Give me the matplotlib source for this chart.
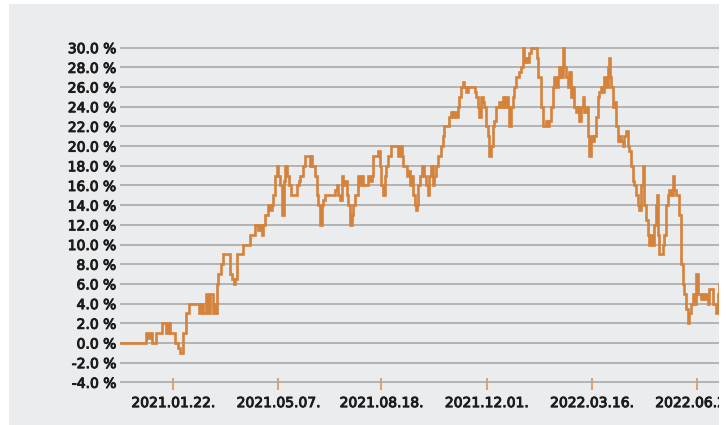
import pandas as pd
import matplotlib
matplotlib.use("Agg")
import matplotlib.pyplot as plt
import matplotlib.dates as mdates
import matplotlib.patheffects as pe
from matplotlib.patches import Rectangle

# DATA (days since start, cumulative return in %)
start_date = pd.Timestamp("2020-11-30")

day_offsets = [
    0, 25, 26, 28, 30, 32, 35, 36, 40, 42, 45, 46, 48, 50, 53, 55, 58, 60, 63, 66,
    69, 77, 79, 81, 83, 86, 88, 90, 93, 95, 96, 97, 98, 101, 103, 107, 110, 112, 114, 115,
    117, 122, 123, 129, 130, 133, 135, 138, 140, 142, 143, 145, 148, 150, 152, 153, 155, 157, 158, 160,
    162, 164, 165, 167, 169, 171, 175, 177, 179, 180, 183, 185, 188, 190, 191, 192, 194, 195, 197, 198,
    200, 202, 203, 205, 212, 215, 217, 218, 220, 222, 223, 225, 227, 228, 230, 232, 233, 235, 238, 240,
    242, 243, 247, 248, 250, 252, 253, 257, 258, 260, 261, 263, 265, 266, 268, 271, 277, 278, 280, 282,
    283, 285, 287, 288, 290, 292, 293, 295, 296, 297, 298, 300, 302, 303, 305, 307, 308, 310, 312, 313,
    315, 317, 320, 322, 323, 327, 328, 330, 332, 333, 335, 337, 338, 340, 342, 343, 345, 347, 353, 354,
    355, 357, 358, 360, 362, 363, 365, 367, 368, 370, 372, 373, 375, 378, 380, 382, 383, 385, 387, 388,
    390, 392, 393, 395, 398, 400, 402, 403, 405, 407, 408, 410, 415, 416, 417, 420, 422, 425, 427, 428,
    430, 432, 433, 435, 437, 438, 440, 442, 443, 445, 447, 448, 450, 452, 453, 455, 457, 458, 460, 462,
    463, 465, 467, 468, 470, 472, 473, 475, 477, 478, 480, 482, 483, 485, 487, 488, 489, 490, 492, 493,
    495, 497, 498, 500, 502, 503, 505, 507, 508, 510, 512, 513, 515, 517, 518, 520, 522, 523, 525, 527,
    528, 530, 532, 533, 535, 536, 537, 538, 540, 542, 543, 545, 547, 548, 550, 552, 553, 555, 557, 558,
    560, 562, 563, 565, 567, 568, 570, 572, 573, 575, 577, 578, 580, 582, 583, 585, 587, 588, 590, 592,
    593, 595, 597, 598, 599,
]

returns_pct = [
    0, 0, 1, 0.5, 1, 0, 0, 1, 1, 2, 2, 1, 2, 1, 1, 0, -0.5, -1, 1, 3,
    4, 4, 3, 4, 3, 5, 3, 5, 3, 4, 3, 6, 7, 8, 9, 9, 7, 6.5, 6, 6.5,
    9, 9, 10, 10, 11, 11, 12, 11.5, 12, 11, 12, 13, 14, 13.5, 14, 15, 17, 18, 17, 16,
    13, 16.5, 18, 17, 16, 15, 15, 16, 16.5, 17, 18, 19, 19, 18, 19, 18, 18, 17, 15, 14,
    12, 14, 14.5, 15, 15, 15.5, 16, 15, 14.5, 17, 16, 16.5, 15, 14, 12, 13, 14, 15, 17, 16,
    17, 16, 16, 17, 16.5, 17, 19, 19, 19.5, 18, 16, 15, 17, 18, 19, 20, 20, 19, 20, 19,
    18, 18, 17, 17.5, 16, 17, 15, 14, 13.5, 14, 16, 17, 18, 17, 16, 15, 17, 18, 16, 17,
    18, 19, 20, 21, 22, 22, 23, 23.5, 23, 23.5, 23, 24, 25, 26, 26.5, 26, 25.5, 26, 26, 25.5,
    25, 24, 23, 25, 24.5, 24, 22, 21, 19, 20, 22, 22.5, 24, 24.5, 24, 25, 24, 25, 24, 22,
    24, 25, 26, 27, 27.5, 28, 30, 28.5, 29, 28.5, 29.5, 30, 30, 29, 27, 24, 22, 22.5, 22, 22.5,
    24, 26, 27, 26, 27, 28, 27, 30, 28, 27, 26, 27.5, 25, 26, 24, 23.5, 24, 22.5, 24, 25,
    23.5, 24, 21, 19, 21, 20.5, 21, 23, 25, 25.5, 26, 25.5, 27, 26, 28, 29, 27, 26, 24, 24.5,
    22, 20.5, 21, 20.5, 20, 21, 21.5, 20, 19.5, 18, 16.5, 16, 15, 14, 13.5, 16, 18, 14, 12.5, 11,
    10, 11, 10, 12, 14, 15, 11, 9, 9, 10, 11, 14, 15, 15.5, 15, 17, 15.5, 15, 15, 13,
    8, 6, 5, 3.5, 2, 3, 4, 5, 4, 7, 5, 5, 4.5, 5, 4.5, 5, 4, 5.5, 5.5, 4,
    4, 3, 5, 6, 8,
]

tick_dates = ["2021-01-22", "2021-05-07", "2021-08-18", "2021-12-01", "2022-03-16", "2022-06-29"]

dates = start_date + pd.to_timedelta(day_offsets, unit="D")

# STYLE
bg = "#ebecee"
line_color = "#d5823b"
text_color = "#1c1c1c"
W, H = 726, 425

fig = plt.figure(figsize=(W / 100, H / 100), dpi=100, facecolor="white")
fig.patches.append(Rectangle((9 / W, 0), (719 - 9) / W, (H - 4) / H,
                             transform=fig.transFigure, facecolor=bg,
                             edgecolor="none", zorder=-1))

# axes: left at x=120 px, -4.2..30.2 % spans y=384.3..45.7 px
ax = fig.add_axes([120 / W, (H - 384.3) / H, 606 / W, (384.3 - 45.7) / H])
ax.set_facecolor("none")

ax.plot(dates, returns_pct, drawstyle="steps-post", color=line_color,
        lw=1.9, solid_joinstyle="miter", zorder=3)

ax.set_ylim(-4.2, 30.2)
ax.set_xlim(start_date, start_date + pd.Timedelta(days=605))

yticks = list(range(-4, 31, 2))
ax.set_yticks(yticks)
ax.set_yticklabels([f"{v:.1f} %" for v in yticks])
ax.grid(axis="y", color="#a9a9a9", lw=1.2, zorder=1)
ax.grid(axis="x", visible=False)

ax.set_xticks(pd.to_datetime(tick_dates))
ax.xaxis.set_major_formatter(mdates.DateFormatter("%Y.%m.%d."))

for s in ax.spines.values():
    s.set_visible(False)

ax.tick_params(axis="y", length=0, pad=2.9, labelsize=10, labelcolor=text_color)
ax.tick_params(axis="x", direction="inout", length=8, width=1.5, color="#e3a36b",
               pad=4.5, labelsize=10, labelcolor=text_color)

stroke = [pe.withStroke(linewidth=0.7, foreground=text_color)]
for lab in ax.get_xticklabels() + ax.get_yticklabels():
    lab.set_path_effects(stroke)

# the reference is cropped on the right
fig.add_artist(Rectangle((719 / W, 0), 1, 1, transform=fig.transFigure,
                         facecolor="white", edgecolor="none", zorder=10))

fig.savefig("out.png", dpi=100, facecolor="white")
